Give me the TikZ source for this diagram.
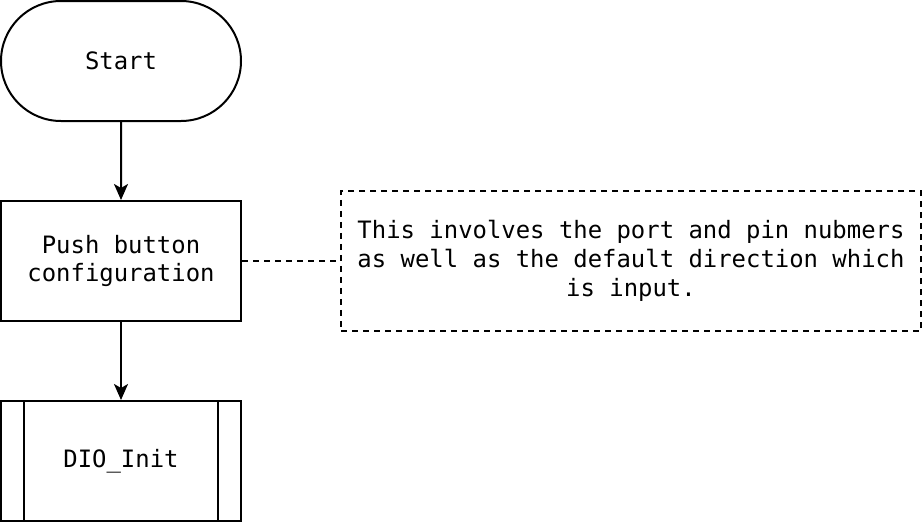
\documentclass[tikz,border=0pt]{standalone}
\usepackage{fontspec}
\setmonofont{DejaVu Sans Mono}
\usepackage{tikz}
\usetikzlibrary{shapes.misc,positioning,arrows.meta}

\begin{document}
\begin{tikzpicture}
            \tikzstyle{chart}=[draw, line width=2bp, minimum width=240bp, minimum height=120bp, inner sep=0pt, font=\ttfamily\fontsize{24}{28.8}\selectfont, align=center];
            \tikzstyle{terminal}=[chart, rounded rectangle];
            \tikzstyle{flow}=[line width=2bp, -{Stealth[length=16bp,width=14bp,inset=4bp]}];
            \tikzstyle{remark}=[line width=2bp, dash pattern=on 6bp off 5bp];

            % Fix the page size
            \useasboundingbox (0,0) rectangle (922bp,-522bp);

            % Start terminal
            \node[terminal] (start) at (121bp,-61bp) {Start};

            % Configuration step and the predefined process below it
            \node[chart, below=78bp of start] (config) {Push button\\configuration};
            \node[chart, below=78bp of config] (dioinit) {DIO\_Init};
            \draw[line width=2bp] ([xshift=24bp]dioinit.north west) -- ([xshift=24bp]dioinit.south west);
            \draw[line width=2bp] ([xshift=-24bp]dioinit.north east) -- ([xshift=-24bp]dioinit.south east);

            % Comment box
            \node[chart, remark, minimum width=580bp, minimum height=140bp, right=98bp of config] (note)
                {This involves the port and pin nubmers\\as well as the default direction which\\is input.};

            % Connectors
            \draw[flow] (start) -- (config);
            \draw[flow] (config) -- (dioinit);
            \draw[remark] (config) -- (note);
        \end{tikzpicture}
\end{document}
